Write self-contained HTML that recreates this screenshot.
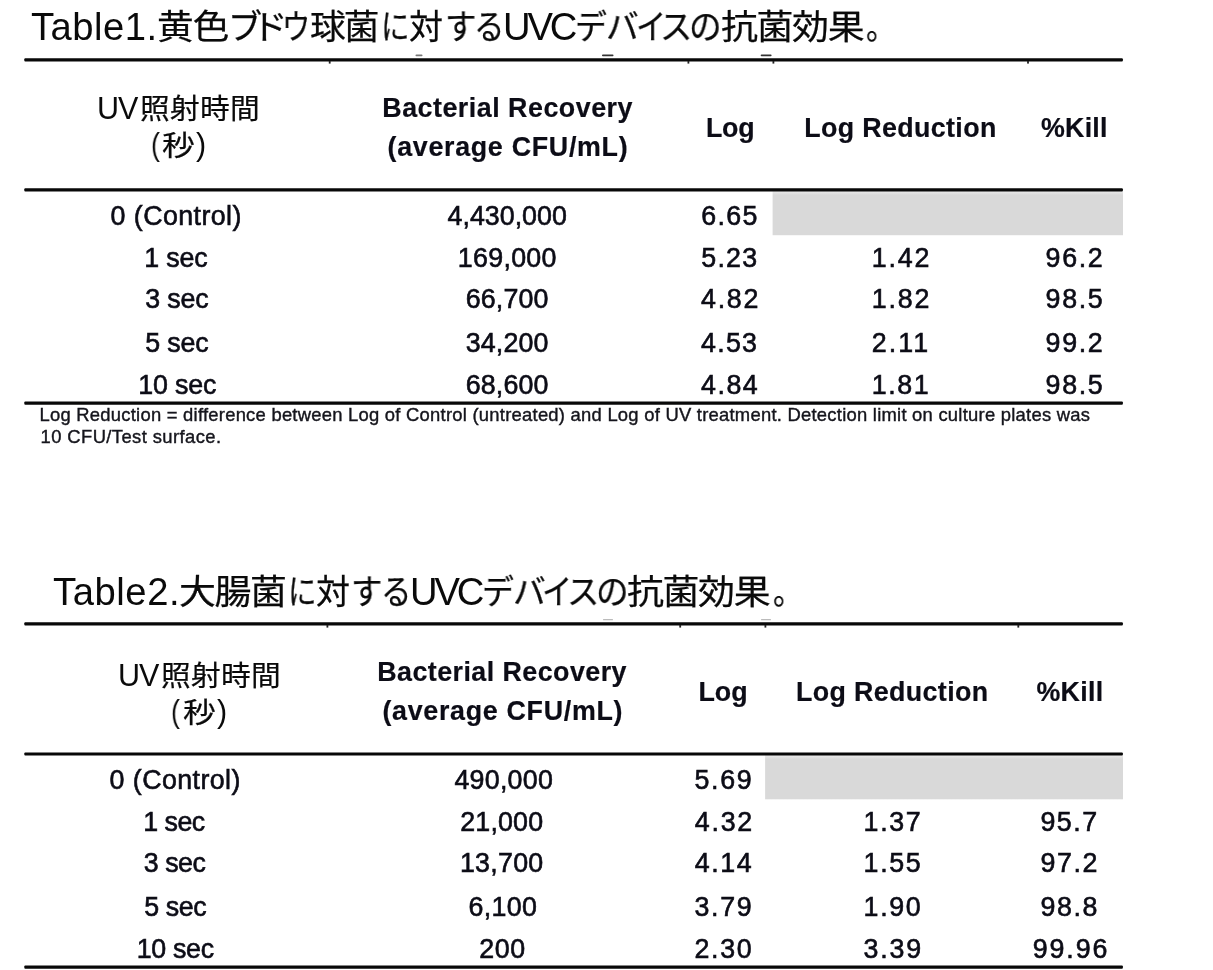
<!DOCTYPE html>
<html lang="ja"><head><meta charset="utf-8"><title>UVC device antibacterial effect tables</title>
<style>
html,body{margin:0;padding:0;background:#fff;}
html{width:1213px;height:970px;overflow:hidden;}
body{width:1213px;height:970px;position:relative;overflow:hidden;}
.i{position:absolute;white-space:nowrap;line-height:40px;transform-origin:0 50%;}
.ln{position:absolute;left:0;margin:0;white-space:nowrap;line-height:40px;height:40px;font-size:0;font-weight:normal;}
.ln span{display:inline-block;position:relative;vertical-align:baseline;white-space:nowrap;line-height:40px;transform-origin:0 50%;}
.TL{font-family:"Liberation Sans",sans-serif;font-size:38.2px;color:#0a0a0a;will-change:transform;}
.TC{font-family:"Liberation Sans","Noto Sans CJK JP",sans-serif;font-size:34px;color:#0a0a0a;will-change:transform;-webkit-text-stroke:0.25px #0a0a0a;}
.JL{font-family:"Liberation Sans",sans-serif;font-size:30.5px;color:#0a0a0a;will-change:transform;}
.JC{font-family:"Liberation Sans","Noto Sans CJK JP",sans-serif;font-size:28.6px;color:#0a0a0a;will-change:transform;-webkit-text-stroke:0.2px #0a0a0a;}
.H{font-family:"Liberation Sans",sans-serif;font-size:26.8px;font-weight:bold;color:#0c0c16;-webkit-text-stroke:0.2px #0c0c16;filter:blur(0.5px);}
.B{font-family:"Liberation Sans",sans-serif;font-size:26.8px;color:#0c0c16;-webkit-text-stroke:0.6px #0c0c16;filter:blur(0.5px);}
.F{font-family:"Liberation Sans",sans-serif;font-size:18.4px;color:#15151c;-webkit-text-stroke:0.4px #15151c;filter:blur(0.45px);}
svg{position:absolute;left:0;top:0;}
</style></head><body>
<svg width="1213" height="970" viewBox="0 0 1213 970">
<defs><linearGradient id="g" x1="0" y1="0" x2="0" y2="1"><stop offset="0" stop-color="#efefef"/><stop offset="0.1" stop-color="#d9d9d9"/><stop offset="1" stop-color="#d9d9d9"/></linearGradient></defs>
<rect x="772.6" y="190.5" width="350.4" height="44.7" fill="url(#g)"/>
<rect x="765.1" y="754.5" width="357.9" height="44.8" fill="url(#g)"/>
<rect x="24.3" y="58.3" width="1098.6" height="3.1" rx="1" fill="#080808"/>
<rect x="24.3" y="188.3" width="1098.6" height="3.1" rx="1" fill="#080808"/>
<rect x="24.3" y="401.6" width="1098.6" height="3.1" rx="1" fill="#080808"/>
<rect x="24.3" y="622.3" width="1098.6" height="3.1" rx="1" fill="#080808"/>
<rect x="24.3" y="752.4" width="1098.6" height="3.1" rx="1" fill="#080808"/>
<rect x="24.3" y="965.6" width="1098.6" height="3.1" rx="1" fill="#080808"/>
<rect x="328.8" y="61" width="1.8" height="2.6" fill="#222"/>
<rect x="687.5" y="61" width="1.8" height="2.6" fill="#222"/>
<rect x="772.5" y="61" width="1.8" height="2.6" fill="#222"/>
<rect x="1027.1" y="61" width="1.8" height="2.6" fill="#222"/>
<rect x="326.5" y="625" width="1.8" height="2.6" fill="#222"/>
<rect x="679.3" y="625" width="1.8" height="2.6" fill="#222"/>
<rect x="764.5" y="625" width="1.8" height="2.6" fill="#222"/>
<rect x="1017.4" y="625" width="1.8" height="2.6" fill="#222"/>
<rect x="415.5" y="54.6" width="7.0" height="1.6" rx="0.8" fill="#777"/>
<rect x="602.0" y="54.6" width="11.5" height="1.6" rx="0.8" fill="#333"/>
<rect x="760.7" y="54.6" width="10.9" height="1.6" rx="0.8" fill="#333"/>
<rect x="603.0" y="619" width="10.0" height="1.3" rx="0.6" fill="#bbb"/>
<rect x="761.0" y="619" width="10.0" height="1.3" rx="0.6" fill="#bbb"/>
</svg>
<h2 class="ln" id="t1" style="top:6.90px;"><span class="TL" style="margin-left:30.80px;width:125.90px;top:0.01px;letter-spacing:0.500px;">Table1.</span><span class="TC" style="width:70.90px;top:-1.24px;letter-spacing:-0.741px;transform:scaleX(1.0784);">黄色</span><span class="TC" style="width:24.00px;top:-1.24px;">ブ</span><span class="TC" style="width:30.10px;top:-1.24px;transform:scaleX(1.0526);">ド</span><span class="TC" style="width:28.10px;top:-1.24px;transform:scaleX(0.8315);">ウ</span><span class="TC" style="width:71.30px;top:-1.24px;letter-spacing:-1.904px;transform:scaleX(1.0502);">球菌</span><span class="TC" style="width:28.10px;top:-1.24px;transform:scaleX(0.8377);">に</span><span class="TC" style="width:35.50px;top:-1.24px;">対</span><span class="TC" style="width:29.80px;top:-1.24px;transform:scaleX(0.9246);">す</span><span class="TC" style="width:28.50px;top:-1.24px;transform:scaleX(0.8961);">る</span><span class="TL" style="width:72.50px;top:0.01px;letter-spacing:-3.100px;">UVC</span><span class="TC" style="width:30.30px;top:-1.24px;transform:scaleX(0.9403);">デ</span><span class="TC" style="width:29.80px;top:-1.24px;transform:scaleX(0.9617);">バ</span><span class="TC" style="width:24.50px;top:-1.24px;transform:scaleX(0.8856);">イ</span><span class="TC" style="width:29.10px;top:-1.24px;transform:scaleX(0.9473);">ス</span><span class="TC" style="width:31.40px;top:-1.24px;transform:scaleX(0.9575);">の</span><span class="TC" style="width:145.40px;top:-1.24px;letter-spacing:-1.288px;transform:scaleX(1.0867);">抗菌効果</span><span class="TC" style="top:-1.24px;transform:scaleX(0.8733);">。</span></h2>
<div class="ln" id="j1a" style="top:88.30px;"><span class="JL" style="margin-left:97.00px;width:43.00px;letter-spacing:-1.000px;">UV</span><span class="JC" style="top:-0.40px;letter-spacing:0.256px;transform:scaleX(1.0400);">照射時間</span></div>
<div class="ln" id="j1b" style="top:124.10px;"><span class="JL" style="margin-left:150.50px;width:11.80px;top:0.01px;transform:scaleX(0.8750);">(</span><span class="JC" style="width:34.20px;top:0.91px;transform:scaleX(1.1487);">秒</span><span class="JL" style="top:0.01px;">)</span></div>
<span class="i H" style="left:382.30px;top:87.60px;letter-spacing:0.517px;">Bacterial Recovery</span>
<span class="i H" style="left:387.50px;top:126.90px;letter-spacing:0.720px;">(average CFU/mL)</span>
<span class="i H" style="left:705.90px;top:108.00px;letter-spacing:-0.200px;">Log</span>
<span class="i H" style="left:804.30px;top:108.00px;letter-spacing:0.367px;">Log Reduction</span>
<span class="i H" style="left:1041.00px;top:108.00px;letter-spacing:0.250px;">%Kill</span>
<span class="i B" style="left:110.60px;top:196.00px;letter-spacing:0.420px;">0 (Control)</span>
<span class="i B" style="left:447.60px;top:196.00px;letter-spacing:-0.002px;">4,430,000</span>
<span class="i B" style="left:701.30px;top:196.00px;letter-spacing:1.333px;">6.65</span>
<span class="i B" style="left:144.30px;top:237.60px;letter-spacing:-0.150px;">1 sec</span>
<span class="i B" style="left:457.80px;top:237.60px;letter-spacing:0.300px;">169,000</span>
<span class="i B" style="left:701.30px;top:237.60px;letter-spacing:1.201px;">5.23</span>
<span class="i B" style="left:871.80px;top:237.60px;letter-spacing:1.799px;">1.42</span>
<span class="i B" style="left:1045.60px;top:237.60px;letter-spacing:1.667px;">96.2</span>
<span class="i B" style="left:145.30px;top:279.30px;letter-spacing:-0.200px;">3 sec</span>
<span class="i B" style="left:465.70px;top:279.30px;letter-spacing:0.160px;">66,700</span>
<span class="i B" style="left:701.00px;top:279.30px;letter-spacing:1.734px;">4.82</span>
<span class="i B" style="left:871.80px;top:279.30px;letter-spacing:1.799px;">1.82</span>
<span class="i B" style="left:1045.60px;top:279.30px;letter-spacing:1.667px;">98.5</span>
<span class="i B" style="left:145.30px;top:322.60px;letter-spacing:-0.200px;">5 sec</span>
<span class="i B" style="left:465.70px;top:322.60px;letter-spacing:0.160px;">34,200</span>
<span class="i B" style="left:701.00px;top:322.60px;letter-spacing:1.267px;">4.53</span>
<span class="i B" style="left:871.70px;top:322.60px;letter-spacing:2.132px;">2.11</span>
<span class="i B" style="left:1045.60px;top:322.60px;letter-spacing:1.667px;">99.2</span>
<span class="i B" style="left:138.20px;top:364.80px;letter-spacing:-0.160px;">10 sec</span>
<span class="i B" style="left:465.70px;top:364.80px;letter-spacing:0.160px;">68,600</span>
<span class="i B" style="left:701.00px;top:364.80px;letter-spacing:1.534px;">4.84</span>
<span class="i B" style="left:871.80px;top:364.80px;letter-spacing:1.600px;">1.81</span>
<span class="i B" style="left:1045.60px;top:364.80px;letter-spacing:1.667px;">98.5</span>
<span class="i F" style="left:39.50px;top:395.10px;letter-spacing:0.252px;">Log Reduction = difference between Log of Control (untreated) and Log of UV treatment. Detection limit on culture plates was</span>
<span class="i F" style="left:40.50px;top:416.60px;letter-spacing:0.412px;">10 CFU/Test surface.</span>
<h2 class="ln" id="t2" style="top:571.80px;"><span class="TL" style="margin-left:52.60px;width:126.90px;letter-spacing:0.568px;">Table2.</span><span class="TC" style="width:108.40px;top:-1.25px;letter-spacing:-1.290px;transform:scaleX(1.0858);">大腸菌</span><span class="TC" style="width:28.10px;top:-1.25px;transform:scaleX(0.8377);">に</span><span class="TC" style="width:35.50px;top:-1.25px;">対</span><span class="TC" style="width:29.80px;top:-1.25px;transform:scaleX(0.9246);">す</span><span class="TC" style="width:28.50px;top:-1.25px;transform:scaleX(0.8961);">る</span><span class="TL" style="width:72.50px;letter-spacing:-3.100px;">UVC</span><span class="TC" style="width:30.30px;top:-1.25px;transform:scaleX(0.9403);">デ</span><span class="TC" style="width:29.80px;top:-1.25px;transform:scaleX(0.9617);">バ</span><span class="TC" style="width:24.50px;top:-1.25px;transform:scaleX(0.8856);">イ</span><span class="TC" style="width:29.10px;top:-1.25px;transform:scaleX(0.9473);">ス</span><span class="TC" style="width:31.40px;top:-1.25px;transform:scaleX(0.9575);">の</span><span class="TC" style="width:145.40px;top:-1.25px;letter-spacing:-1.288px;transform:scaleX(1.0867);">抗菌効果</span><span class="TC" style="top:-1.25px;transform:scaleX(0.8733);">。</span></h2>
<div class="ln" id="j2a" style="top:655.40px;"><span class="JL" style="margin-left:117.80px;width:43.00px;top:0.01px;letter-spacing:-1.000px;">UV</span><span class="JC" style="top:-0.39px;letter-spacing:0.256px;transform:scaleX(1.0400);">照射時間</span></div>
<div class="ln" id="j2b" style="top:691.20px;"><span class="JL" style="margin-left:171.30px;width:11.80px;top:0.01px;transform:scaleX(0.8750);">(</span><span class="JC" style="width:34.20px;top:0.91px;transform:scaleX(1.1487);">秒</span><span class="JL" style="top:0.01px;">)</span></div>
<span class="i H" style="left:377.20px;top:651.60px;letter-spacing:0.471px;">Bacterial Recovery</span>
<span class="i H" style="left:382.40px;top:690.90px;letter-spacing:0.720px;">(average CFU/mL)</span>
<span class="i H" style="left:698.40px;top:672.00px;letter-spacing:0.100px;">Log</span>
<span class="i H" style="left:796.10px;top:672.00px;letter-spacing:0.367px;">Log Reduction</span>
<span class="i H" style="left:1036.40px;top:672.00px;letter-spacing:0.300px;">%Kill</span>
<span class="i B" style="left:109.60px;top:760.00px;letter-spacing:0.420px;">0 (Control)</span>
<span class="i B" style="left:454.40px;top:760.00px;letter-spacing:0.267px;">490,000</span>
<span class="i B" style="left:694.60px;top:760.00px;letter-spacing:1.600px;">5.69</span>
<span class="i B" style="left:143.20px;top:801.60px;letter-spacing:-0.500px;">1 sec</span>
<span class="i B" style="left:460.30px;top:801.60px;letter-spacing:0.160px;">21,000</span>
<span class="i B" style="left:694.70px;top:801.60px;letter-spacing:1.799px;">4.32</span>
<span class="i B" style="left:863.60px;top:801.60px;letter-spacing:1.666px;">1.37</span>
<span class="i B" style="left:1040.50px;top:801.60px;letter-spacing:1.467px;">95.7</span>
<span class="i B" style="left:143.80px;top:843.30px;letter-spacing:-0.500px;">3 sec</span>
<span class="i B" style="left:459.90px;top:843.30px;letter-spacing:0.280px;">13,700</span>
<span class="i B" style="left:694.70px;top:843.30px;letter-spacing:1.600px;">4.14</span>
<span class="i B" style="left:863.60px;top:843.30px;letter-spacing:1.666px;">1.55</span>
<span class="i B" style="left:1040.50px;top:843.30px;letter-spacing:1.600px;">97.2</span>
<span class="i B" style="left:144.20px;top:886.60px;letter-spacing:-0.400px;">5 sec</span>
<span class="i B" style="left:468.50px;top:886.60px;letter-spacing:0.350px;">6,100</span>
<span class="i B" style="left:694.60px;top:886.60px;letter-spacing:1.600px;">3.79</span>
<span class="i B" style="left:863.60px;top:886.60px;letter-spacing:1.666px;">1.90</span>
<span class="i B" style="left:1040.50px;top:886.60px;letter-spacing:1.600px;">98.8</span>
<span class="i B" style="left:136.70px;top:928.80px;letter-spacing:-0.320px;">10 sec</span>
<span class="i B" style="left:479.30px;top:928.80px;letter-spacing:0.600px;">200</span>
<span class="i B" style="left:694.60px;top:928.80px;letter-spacing:1.600px;">2.30</span>
<span class="i B" style="left:863.50px;top:928.80px;letter-spacing:1.801px;">3.39</span>
<span class="i B" style="left:1032.70px;top:928.80px;letter-spacing:1.900px;">99.96</span>
</body></html>
